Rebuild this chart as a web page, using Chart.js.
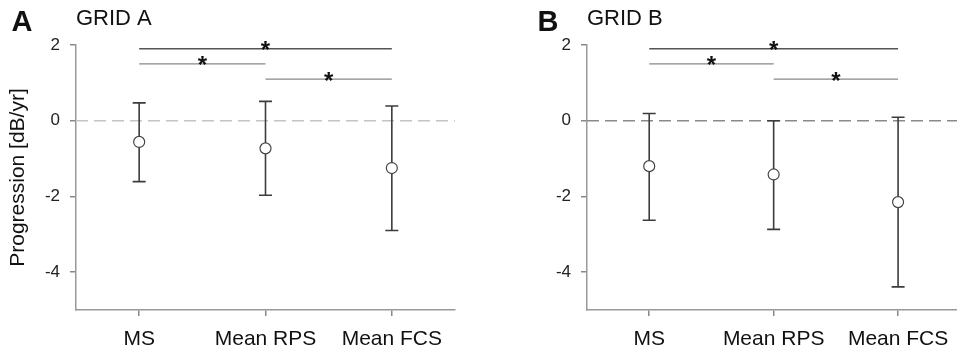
<!DOCTYPE html>
<html>
<head>
<meta charset="utf-8">
<script src="https://cdn.jsdelivr.net/npm/chart.js@4.4.1/dist/chart.umd.min.js"></script>
<style>
  body { margin: 0; background: #fff; overflow: hidden; width: 957px; height: 353px; position: relative; }
  canvas { position: absolute; top: 0; }
  #panelA { left: 0; }
  #panelB { left: 480px; }
</style>
</head>
<body>
<canvas id="panelA" width="478" height="353"></canvas>
<canvas id="panelB" width="487" height="353"></canvas>
<script>
// data
const categories = ['MS', 'Mean RPS', 'Mean FCS'];
const yTicks = [-4, -2, 0, 2];

const gridAMean  = [-0.56, -0.73, -1.25];
const gridAUpper = [0.47, 0.51, 0.39];
const gridALower = [-1.61, -1.97, -2.90];

const gridBMean  = [-1.20, -1.42, -2.15];
const gridBUpper = [0.19, 0.00, 0.09];
const gridBLower = [-2.63, -2.87, -4.39];

// significance brackets: [from category, to category, height]
const brackets = [[0, 2, 1.9], [0, 1, 1.5], [1, 2, 1.1]];

const FONT = "'Liberation Sans', Arial, sans-serif";

const errorBarPlugin = {
    id: 'errorBars',
    afterDatasetDraw(chart, args, opts) {
        if (args.index !== 1) return; // draw after the zero line, before the points
        const ctx = chart.ctx;
        const x = chart.scales.x, y = chart.scales.y;
        ctx.save();
        ctx.strokeStyle = '#3c3c3c';
        ctx.lineWidth = 1.6;
        opts.lower.forEach((lo, i) => {
            const px = x.getPixelForValue(i);
            const pTop = y.getPixelForValue(opts.upper[i]);
            const pBot = y.getPixelForValue(lo);
            ctx.beginPath();
            ctx.moveTo(px, pTop); ctx.lineTo(px, pBot);
            ctx.moveTo(px - 6.5, pTop); ctx.lineTo(px + 6.5, pTop);
            ctx.moveTo(px - 6.5, pBot); ctx.lineTo(px + 6.5, pBot);
            ctx.stroke();
        });
        ctx.restore();
    },
    afterDraw(chart, args, opts) {
        const ctx = chart.ctx;
        const x = chart.scales.x, y = chart.scales.y;
        const area = chart.chartArea;
        ctx.save();
        // brackets with asterisks
        opts.brackets.forEach((b, k) => {
            const x1 = x.getPixelForValue(b[0]);
            const x2 = x.getPixelForValue(b[1]);
            const py = y.getPixelForValue(b[2]);
            ctx.strokeStyle = k === 0 ? '#555' : '#888';
            ctx.lineWidth = k === 0 ? 1.6 : 1.3;
            ctx.beginPath();
            ctx.moveTo(x1, py); ctx.lineTo(x2, py);
            ctx.stroke();
            ctx.fillStyle = '#111';
            ctx.font = 'bold 24px ' + FONT;
            ctx.textAlign = 'center';
            ctx.textBaseline = 'alphabetic';
            ctx.fillText('*', (x1 + x2) / 2, py + 9.5);
        });
        // panel letter and title
        ctx.fillStyle = '#111';
        ctx.textAlign = 'left';
        ctx.textBaseline = 'alphabetic';
        ctx.font = 'bold 29px ' + FONT;
        ctx.fillText(opts.letter, area.left + opts.letterOffset, 31);
        ctx.font = '22px ' + FONT;
        ctx.fillText(opts.title, area.left, 25);
        ctx.restore();
    }
};

function makePanel(id, mean, upper, lower, opt) {
    const ctx = document.getElementById(id).getContext('2d');
    return new Chart(ctx, {
        type: 'scatter',
        data: {
            datasets: [{
                data: mean.map((v, i) => ({ x: i, y: v })),
                pointRadius: 5.5,
                pointBorderWidth: 1.2,
                pointBorderColor: '#444',
                pointBackgroundColor: '#fff',
                order: 0
            }, {
                type: 'line',
                data: [{ x: -0.5, y: 0 }, { x: 2.5, y: 0 }],
                borderColor: opt.zeroColor,
                borderWidth: 1.4,
                borderDash: [12, 6],
                pointRadius: 0,
                order: 2
            }]
        },
        options: {
            responsive: false,
            animation: false,
            layout: { padding: { top: 45, right: opt.padRight, left: 0, bottom: 0 } },
            plugins: {
                legend: { display: false },
                tooltip: { enabled: false },
                errorBars: {
                    lower: lower, upper: upper, brackets: brackets,
                    letter: opt.letter, title: opt.title, letterOffset: opt.letterOffset
                }
            },
            scales: {
                x: {
                    type: 'linear',
                    min: -0.5, max: 2.5,
                    afterBuildTicks: s => { s.ticks = categories.map((c, i) => ({ value: i })); },
                    afterFit: s => { s.height = 43; },
                    ticks: {
                        callback: v => categories[v],
                        font: { family: FONT, size: 21 },
                        color: '#111',
                        padding: 11,
                        maxRotation: 0
                    },
                    grid: { drawOnChartArea: false, drawTicks: true, tickLength: 6, color: '#888', lineWidth: 1.5 },
                    border: { color: '#999', width: 1.5 }
                },
                y: {
                    min: -5, max: 2,
                    afterBuildTicks: s => { s.ticks = yTicks.map(v => ({ value: v })); },
                    afterFit: s => { s.width = opt.yWidth; },
                    ticks: {
                        font: { family: FONT, size: 17 },
                        color: '#222',
                        padding: 10
                    },
                    title: {
                        display: opt.showYTitle,
                        text: 'Progression [dB/yr]',
                        font: { family: FONT, size: 21 },
                        color: '#111',
                        padding: { top: 6, bottom: 0 }
                    },
                    grid: { drawOnChartArea: false, drawTicks: true, tickLength: 6, color: '#888', lineWidth: 1.5 },
                    border: { color: '#999', width: 1.5 }
                }
            }
        },
        plugins: [errorBarPlugin]
    });
}

makePanel('panelA', gridAMean, gridAUpper, gridALower, {
    letter: 'A', title: 'GRID A', letterOffset: -64.5, yWidth: 76, padRight: 23,
    showYTitle: true, zeroColor: '#c4c4c4'
});
makePanel('panelB', gridBMean, gridBUpper, gridBLower, {
    letter: 'B', title: 'GRID B', letterOffset: -49.5, yWidth: 107, padRight: 0,
    showYTitle: false, zeroColor: '#8a8a8a'
});
</script>
</body>
</html>
